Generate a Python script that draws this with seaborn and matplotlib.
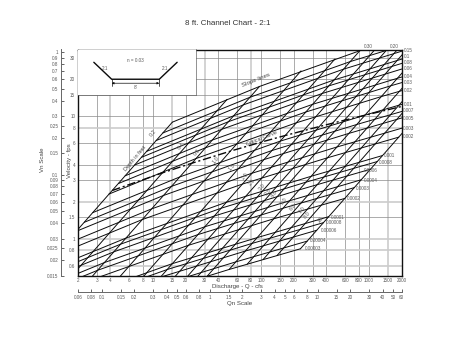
import matplotlib
matplotlib.use('Agg')
import matplotlib.pyplot as plt
from matplotlib.ticker import NullLocator
import seaborn as sns
import pandas as pd

W, H = 463, 358

q_ticks = [2, 3, 4, 6, 8, 10, 15, 20, 30, 40, 60, 80, 100, 150, 200, 300, 400, 600, 800, 1000, 1500, 2000]
v_ticks = [30, 20, 15, 10, 8, 6, 4, 3, 2, 1.5, 1, 0.8, 0.6]
v_labels = ['30', '20', '15', '10', '8', '6', '4', '3', '2', '1.5', '1', '0.8', '0.6']
vn_ticks = [1, 0.9, 0.8, 0.7, 0.6, 0.5, 0.4, 0.3, 0.25, 0.2, 0.15, 0.1, 0.09, 0.08, 0.07, 0.06, 0.05, 0.04, 0.03, 0.025, 0.02, 0.015]
vn_labels = ['1', '0.9', '0.8', '0.7', '0.6', '0.5', '0.4', '0.3', '0.25', '0.2', '0.15', '0.1', '0.09', '0.08', '0.07', '0.06', '0.05', '0.04', '0.03', '0.025', '0.02', '0.015']
qn_ticks = [0.06, 0.08, 0.1, 0.15, 0.2, 0.3, 0.4, 0.5, 0.6, 0.8, 1, 1.5, 2, 3, 4, 5, 6, 8, 10, 15, 20, 30, 40, 50, 60]
qn_labels = ['0.06', '0.08', '0.1', '0.15', '0.2', '0.3', '0.4', '0.5', '0.6', '0.8', '1', '1.5', '2', '3', '4', '5', '6', '8', '10', '15', '20', '30', '40', '50', '60']

# depth lines, ends read at the 0.30 line and at the 0.00003 line
depths = [0.2, 0.4, 0.6, 1, 1.5, 2, 2.5, 3, 3.5, 4, 5, 6, 7, 8, 10]
depth_q_top = [15, 48.3, 96.4, 234, 483, 821, 1253, 1785, 2424, 3174, 5038, 7425, 10383, 13955, 23126]
depth_v_top = [8.93, 13.72, 17.47, 23.41, 29.29, 34.2, 38.6, 42.5, 46.2, 49.6, 56, 61.9, 67.4, 72.7, 82.6]
depth_q_low = [0.15, 0.483, 0.964, 2.34, 4.83, 8.21, 12.5, 17.9, 24.2, 31.7, 50.4, 74.2, 104, 140, 231]
depth_v_low = [0.0893, 0.137, 0.175, 0.234, 0.293, 0.342, 0.386, 0.425, 0.462, 0.496, 0.56, 0.619, 0.674, 0.727, 0.826]

# slope lines, one row per slope
slopes = ['0.30', '0.20', '0.15', '0.1', '0.08', '0.06', '0.04', '0.03', '0.02', '0.01', '0.007', '0.005', '0.003',
          '0.002', '0.001', '0.0008', '0.0006', '0.0004', '0.0003', '0.0002', '0.0001', '0.00008', '0.00006', '0.00004', '0.00003']
slope_q = [
    [15, 96.4, 821, 5038, 23126],
    [12.25, 78.7, 670, 4114, 18883],
    [10.6, 68.2, 581, 3563, 16353],
    [8.66, 55.7, 474, 2909, 13352],
    [7.75, 49.8, 424, 2601, 11941],
    [6.71, 43.1, 367, 2253, 10341],
    [5.48, 35.2, 300, 1840, 8445],
    [4.75, 30.5, 260, 1593, 7313],
    [3.87, 24.9, 212, 1301, 5970],
    [2.74, 17.6, 150, 920, 4222],
    [2.29, 14.7, 125, 770, 3533],
    [1.94, 12.4, 106, 650, 2986],
    [1.5, 9.64, 82.1, 504, 2313],
    [1.23, 7.87, 67, 411, 1888],
    [0.866, 5.57, 47.4, 291, 1335],
    [0.775, 4.98, 42.4, 260, 1194],
    [0.671, 4.31, 36.7, 225, 1034],
    [0.548, 3.52, 30, 184, 844],
    [0.475, 3.05, 26, 159, 731],
    [0.387, 2.49, 21.2, 130, 597],
    [0.274, 1.76, 15, 92, 422],
    [0.245, 1.57, 13.4, 82.3, 378],
    [0.212, 1.36, 11.6, 71.3, 327],
    [0.173, 1.11, 9.48, 58.2, 267],
    [0.15, 0.964, 8.21, 50.4, 231],
]
slope_v = [
    [8.93, 17.47, 34.2, 56, 82.6],
    [7.29, 14.26, 27.9, 45.7, 67.4],
    [6.32, 12.35, 24.2, 39.6, 58.4],
    [5.16, 10.08, 19.75, 32.3, 47.7],
    [4.61, 9.02, 17.67, 28.9, 42.6],
    [3.99, 7.81, 15.3, 25, 36.9],
    [3.26, 6.38, 12.49, 20.4, 30.2],
    [2.82, 5.52, 10.82, 17.7, 26.1],
    [2.31, 4.51, 8.83, 14.45, 21.3],
    [1.63, 3.19, 6.25, 10.2, 15.1],
    [1.36, 2.67, 5.23, 8.55, 12.6],
    [1.15, 2.25, 4.42, 7.23, 10.7],
    [0.893, 1.75, 3.42, 5.6, 8.26],
    [0.729, 1.43, 2.79, 4.57, 6.74],
    [0.516, 1.01, 1.98, 3.23, 4.77],
    [0.461, 0.902, 1.77, 2.89, 4.26],
    [0.399, 0.781, 1.53, 2.5, 3.69],
    [0.326, 0.638, 1.25, 2.04, 3.02],
    [0.282, 0.552, 1.08, 1.77, 2.61],
    [0.231, 0.451, 0.883, 1.45, 2.13],
    [0.163, 0.319, 0.625, 1.02, 1.51],
    [0.146, 0.285, 0.559, 0.914, 1.35],
    [0.126, 0.247, 0.484, 0.792, 1.17],
    [0.103, 0.202, 0.395, 0.646, 0.954],
    [0.0893, 0.175, 0.342, 0.56, 0.826],
]

critical_q = [4.15, 12.1, 22.8, 51.8, 101.6, 167, 345, 593, 915, 1318, 1808, 2387]
critical_v = [2.47, 3.44, 4.13, 5.18, 6.16, 6.95, 8.22, 9.27, 10.17, 10.98, 11.74, 12.43]

channel_x = [-3, 0, 8, 11]
channel_y = [2.85, 0, 0, 2.85]

sns.set_style('white')
plt.rcParams['font.family'] = ['Liberation Sans', 'DejaVu Sans']

LINE = '#0a0a0a'
SOFT = '#5a5a5a'


def put(x, y, s, size=3.3, rot=0, ha='center', color=SOFT):
    # text placed in picture pixels
    fig.text(x / W, 1 - y / H, s, fontsize=size, rotation=rot, ha=ha, va='center',
             color=color, rotation_mode='anchor', zorder=10)


fig = plt.figure(figsize=(W / 100, H / 100), dpi=100)
ax = fig.add_axes([78 / W, 1 - 275.5 / H, 323.5 / W, 226 / H])
ax.set_xscale('log')
ax.set_yscale('log')

# grid, some lines look wider and paler in the scan
wide_q = [4, 15, 30, 80, 1500]
wide_v = [8, 2, 1, 0.8, 0.6]
for q in q_ticks[1:-1]:
    if q in wide_q:
        ax.axvline(q, color='#cccccc', lw=1.2, zorder=1)
    else:
        ax.axvline(q, color='#8a8a8a', lw=0.5, zorder=1)
for v in v_ticks:
    if v in wide_v:
        ax.axhline(v, color='#cccccc', lw=1.2, zorder=1)
    else:
        ax.axhline(v, color='#8a8a8a', lw=0.5, zorder=1)

slope_df = pd.DataFrame({
    'q': sum(slope_q, []),
    'v': sum(slope_v, []),
    'line': [s for s in slopes for _ in range(5)],
})
sns.lineplot(data=slope_df, x='q', y='v', units='line', estimator=None, sort=False,
             color=LINE, lw=0.7, legend=False, ax=ax, zorder=3)

depth_df = pd.DataFrame({
    'q': depth_q_top + depth_q_low,
    'v': depth_v_top + depth_v_low,
    'line': depths + depths,
})
sns.lineplot(data=depth_df, x='q', y='v', units='line', estimator=None, sort=False,
             color=LINE, lw=0.7, legend=False, ax=ax, zorder=3)

sns.lineplot(x=critical_q, y=critical_v, estimator=None, sort=False, color=LINE, lw=1.0,
             linestyle=(0, (6, 2, 1.5, 2)), ax=ax, zorder=4)

ax.set_xlim(2, 2000)
ax.set_ylim(0.5, 35)
ax.set_xticks(q_ticks, [str(q) for q in q_ticks])
ax.set_yticks(v_ticks, v_labels)
ax.xaxis.set_minor_locator(NullLocator())
ax.yaxis.set_minor_locator(NullLocator())
ax.tick_params(axis='both', length=0, labelsize=3.3, labelcolor=SOFT, pad=2)
ax.set_xlabel('')
ax.set_ylabel('')
for sp in ax.spines.values():
    sp.set_visible(True)
    sp.set_color('#111111')
    sp.set_linewidth(1.0)

# Vn scale on the left
ax_vn = ax.twinx()
ax_vn.set_yscale('log')
ax_vn.set_ylim(0.015, 1.05)
ax_vn.set_yticks(vn_ticks, vn_labels)
ax_vn.yaxis.set_minor_locator(NullLocator())
ax_vn.tick_params(axis='y', left=True, right=False, labelleft=True, labelright=False,
                  direction='in', length=2, width=0.5, labelsize=3.3, labelcolor=SOFT, pad=1.8)
for name, sp in ax_vn.spines.items():
    sp.set_visible(name == 'left')
ax_vn.spines['left'].set_position(('outward', 12.2))
ax_vn.spines['left'].set_color('#666666')
ax_vn.spines['left'].set_linewidth(0.7)
ax_vn.patch.set_visible(False)

# Qn scale below
ax_qn = ax.twiny()
ax_qn.set_xscale('log')
ax_qn.set_xlim(0.06, 60)
ax_qn.set_xticks(qn_ticks, qn_labels)
ax_qn.xaxis.set_minor_locator(NullLocator())
ax_qn.tick_params(axis='x', bottom=True, top=False, labelbottom=True, labeltop=False,
                  direction='in', length=2, width=0.5, labelsize=3.3, labelcolor=SOFT, pad=2)
for tick, val in zip(ax_qn.xaxis.get_major_ticks(), qn_ticks):
    if val in (0.1, 1, 10):
        tick.tick1line.set_markersize(4)
for name, sp in ax_qn.spines.items():
    sp.set_visible(name == 'bottom')
ax_qn.spines['bottom'].set_position(('outward', 12))
ax_qn.spines['bottom'].set_color('#666666')
ax_qn.spines['bottom'].set_linewidth(0.7)
ax_qn.patch.set_visible(False)

# channel sketch in the corner
ax_ch = fig.add_axes([78 / W, 1 - 95 / H, 117.7 / W, 45.5 / H], zorder=5)
ax_ch.set_xlim(-5.66, 14.12)
ax_ch.set_ylim(-2.65, 5)
sns.lineplot(x=channel_x, y=channel_y, estimator=None, sort=False, color=LINE, lw=1.0, ax=ax_ch)
ax_ch.annotate('', xy=(0, -0.67), xytext=(8, -0.67),
               arrowprops=dict(arrowstyle='<|-|>', color=LINE, lw=0.5, mutation_scale=3, shrinkA=0, shrinkB=0))
ax_ch.plot([0, 0], [0, -1.2], color=LINE, lw=0.5)
ax_ch.plot([8, 8], [0, -1.2], color=LINE, lw=0.5)
ax_ch.set_xticks([])
ax_ch.set_yticks([])
for name, sp in ax_ch.spines.items():
    sp.set_visible(name in ('bottom', 'right'))
    sp.set_color('#666666')
    sp.set_linewidth(0.5)

put(228, 23.5, '8 ft. Channel Chart - 2:1', size=5.8, color='#333333')
put(135, 60, 'n = 0.03')
put(105, 68, '2:1')
put(165, 68, '2:1')
put(135, 87.5, "8'")
put(237, 286.7, 'Discharge - Q - cfs', size=4.4, color='#444444')
put(240, 304, 'Qn Scale', size=4.4, color='#444444')
put(43, 160, 'Vn Scale', size=4.4, rot=90, color='#444444')
put(69, 161, 'Velocity - fps', size=4.4, rot=90, color='#444444')
put(256, 80, 'Slope lines', size=4.4, rot=22, color='#444444')
put(262, 138, 'Critical Curve', size=4, rot=22, color='#444444')
put(135, 158, 'Depth in feet', size=4, rot=50, color='#444444')

# depth labels along the chart
depth_labels = ['0.2', '0.4', '0.6', '1.0', '1.5', '2.0', '2.5', '3.0', '3.5', '4.0', '5.0', '6.0', '7.0', '8.0', '10']
label_x = [153, 181, 197, 216, 232, 245, 252, 262, 268, 274, 284, 293, 302, 307, 320]
label_y = [133, 146, 152, 160, 167, 176, 182, 187, 192, 194, 201, 207, 210, 215, 220]
for s, x, y in zip(depth_labels, label_x, label_y):
    put(x, y, s, size=4, rot=50)

# slope labels at the line ends, centred on what the picture shows
end_x = [368, 394, 408, 407, 408, 408, 408, 408, 408, 408, 409, 409, 409, 409,
         390, 386, 370.7, 370.7, 363, 354, 338, 334, 329, 318, 313]
end_y = [46.7, 46.7, 50.7, 56.7, 62.7, 68.7, 76.7, 82.7, 91, 104.7, 111, 118, 128.7, 136.7,
         155.7, 162, 170, 180, 188, 198.7, 217, 223, 231, 241, 249]
for s, x, y in zip(slopes, end_x, end_y):
    put(x, y, s)

fig.savefig('out.png', dpi=100)
